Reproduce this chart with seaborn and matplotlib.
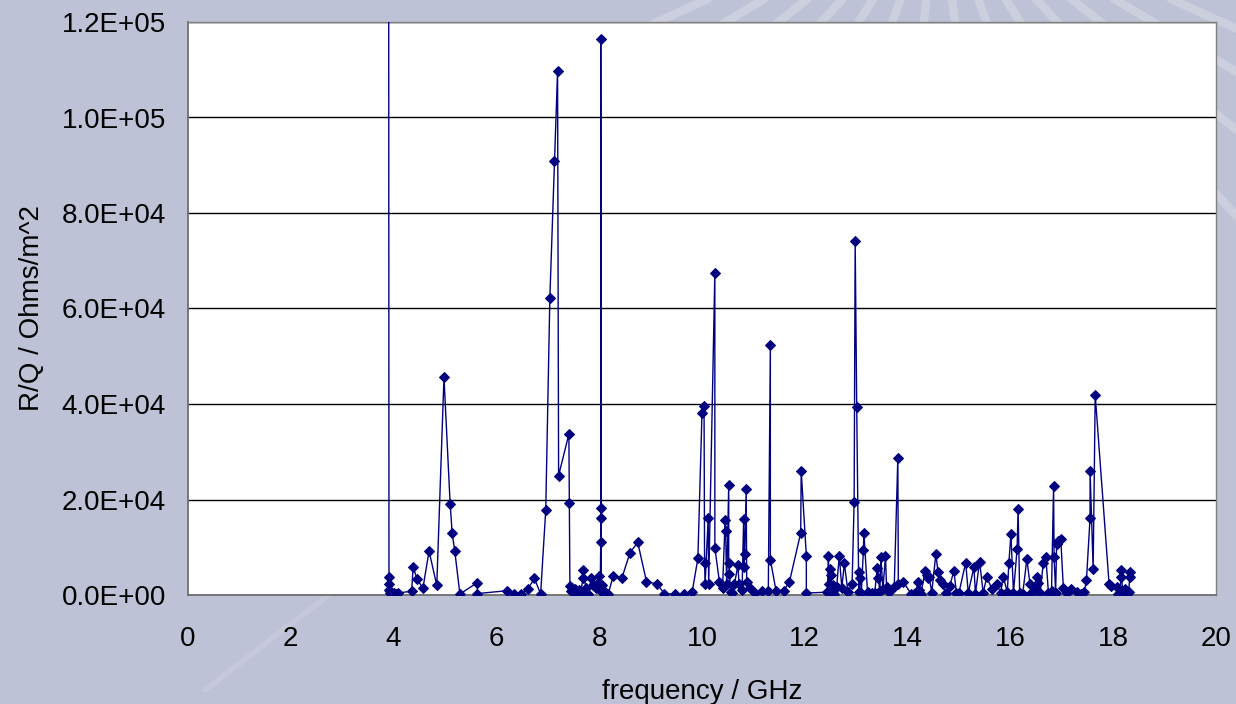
import matplotlib
matplotlib.use("Agg")
import matplotlib.pyplot as plt
import seaborn as sns
import numpy as np
import pandas as pd
from matplotlib.ticker import FuncFormatter

# frequency in GHz
freq = [3.90, 3.91, 3.91, 3.92, 3.93, 3.95, 3.97, 4.00, 4.05, 4.08,
        4.35, 4.38, 4.46, 4.57, 4.69, 4.84, 4.98, 5.10, 5.14, 5.19, 5.29, 5.63, 5.63,
        6.21, 6.34, 6.47, 6.61, 6.74, 6.86, 6.96, 7.04, 7.13, 7.19, 7.21, 7.41, 7.42,
        7.43, 7.45, 7.47, 7.50, 7.53, 7.56, 7.60, 7.63, 7.69, 7.69, 7.74, 7.79, 7.85,
        7.88, 7.93, 7.97, 8.00, 8.02, 8.03, 8.03, 8.03, 8.03, 8.04, 8.06, 8.10, 8.18,
        8.27, 8.44, 8.60, 8.75, 8.92, 9.13, 9.27, 9.48, 9.65, 9.81, 9.92,
        10.00, 10.04, 10.05, 10.06, 10.12, 10.13, 10.25, 10.25, 10.34, 10.40, 10.45,
        10.46, 10.48, 10.52, 10.52, 10.53, 10.56, 10.59, 10.63, 10.70, 10.72, 10.78,
        10.81, 10.82, 10.83, 10.86, 10.87, 10.93, 11.04, 11.17, 11.29, 11.33, 11.33,
        11.44, 11.59, 11.70, 11.92, 11.93, 12.03, 12.03,
        12.44, 12.46, 12.47, 12.49, 12.50, 12.51, 12.52, 12.54, 12.56, 12.58, 12.62,
        12.67, 12.72, 12.77, 12.84, 12.92, 12.96, 12.98, 13.01, 13.05, 13.06, 13.08,
        13.10, 13.14, 13.15, 13.22, 13.30, 13.36, 13.41, 13.43, 13.46, 13.48, 13.52,
        13.57, 13.59, 13.64, 13.74, 13.81, 13.82, 13.92, 14.07, 14.15, 14.21, 14.22,
        14.26, 14.34, 14.37, 14.40, 14.42, 14.47, 14.55, 14.59, 14.64, 14.68, 14.74,
        14.82, 14.90, 14.95, 15.00, 15.13, 15.18, 15.29, 15.32, 15.40, 15.47, 15.54,
        15.64, 15.73, 15.81, 15.86, 15.94, 15.97, 16.01, 16.06, 16.13, 16.15, 16.18,
        16.24, 16.32, 16.38, 16.41, 16.47, 16.51, 16.53, 16.58, 16.64, 16.69, 16.74,
        16.80, 16.84, 16.85, 16.88, 16.90, 16.93, 16.98, 17.03, 17.10, 17.18, 17.30,
        17.38, 17.44, 17.48, 17.55, 17.55, 17.61, 17.65, 17.92, 17.95, 18.08, 18.10,
        18.13, 18.16, 18.16, 18.19, 18.22, 18.26, 18.30, 18.33, 18.33]

# R/Q in kOhms/m^2 (x1000 when plotted)
rq_k = [250.0, 3.8, 2.4, 1.0, 0.5, 0.7, 0.3, 0.5, 0.3, 0.4,
        0.8, 5.8, 3.3, 1.4, 9.2, 2.0, 45.6, 19.1, 12.9, 9.2, 0.2, 2.6, 0.3,
        0.9, 0.3, 0.2, 1.2, 3.5, 0.2, 17.8, 62.2, 90.9, 109.7, 25.0, 33.7, 19.3,
        1.8, 0.8, 1.5, 0.5, 1.2, 0.3, 1.0, 0.4, 3.5, 5.2, 1.5, 0.3, 3.5,
        2.0, 1.5, 2.5, 3.9, 1.0, 11.0, 16.2, 18.3, 116.4, 0.8, 2.0, 0.8, 0.3,
        4.0, 3.5, 8.9, 11.0, 2.8, 2.3, 0.2, 0.2, 0.2, 0.7, 7.7,
        38.2, 39.6, 6.8, 2.2, 16.1, 2.2, 67.4, 9.9, 2.7, 1.5, 15.7,
        13.4, 2.2, 23.1, 6.8, 4.5, 0.7, 0.5, 2.2, 6.3, 2.2, 1.0,
        15.9, 5.8, 8.5, 22.2, 2.7, 1.4, 0.4, 0.9, 0.9, 52.4, 7.4,
        0.9, 0.9, 2.7, 13.0, 26.0, 8.2, 0.4,
        0.6, 8.2, 2.2, 5.4, 0.5, 4.2, 1.0, 2.0, 0.3, 1.5, 1.7,
        8.2, 1.5, 6.6, 0.6, 2.3, 19.5, 74.1, 39.4, 0.6, 4.9, 3.5,
        0.5, 9.4, 13.0, 0.6, 0.4, 0.5, 5.6, 3.5, 0.8, 8.0, 1.2,
        8.2, 1.7, 0.6, 1.7, 28.7, 2.2, 2.7, 0.2, 0.5, 2.7, 1.0,
        0.3, 5.0, 4.2, 3.5, 3.8, 0.5, 8.6, 4.9, 3.2, 2.2, 0.5,
        1.8, 5.1, 0.5, 0.5, 6.8, 0.5, 5.8, 0.3, 7.0, 0.5, 3.7,
        1.3, 2.3, 0.5, 3.8, 0.7, 6.6, 12.8, 0.5, 9.6, 18.0, 0.5,
        0.3, 7.5, 2.4, 0.5, 1.0, 3.8, 2.5, 0.5, 6.8, 7.9, 0.5,
        0.8, 22.8, 7.9, 0.5, 10.7, 11.4, 11.7, 1.5, 0.5, 1.3, 0.7,
        0.3, 0.7, 3.2, 16.2, 26.0, 5.4, 41.9, 2.3, 1.8, 1.7, 0.3,
        0.7, 5.2, 3.8, 0.5, 1.2, 0.3, 0.6, 4.8, 3.8]

rq = [v * 1000.0 for v in rq_k]

x_ticks = [0, 2, 4, 6, 8, 10, 12, 14, 16, 18, 20]
y_ticks = [0, 20000, 40000, 60000, 80000, 100000, 120000]

df = pd.DataFrame({"freq": freq, "rq": rq})

sns.set_theme(style="white")
plt.rcParams["font.family"] = ["Liberation Sans", "DejaVu Sans"]

bg = "#BEC2D6"
fig = plt.figure(figsize=(12.36, 7.04), dpi=100, facecolor=bg)

# faint light rays in the background (decorative)
for ang in np.linspace(-0.9, 0.9, 14):
    x0, y0 = 0.76, 1.15
    fig.add_artist(plt.Line2D([x0, x0 + 0.6 * np.sin(ang)], [y0, y0 - 0.6 * np.cos(ang)],
                              transform=fig.transFigure, color="white", alpha=0.22,
                              lw=6, zorder=0))
fig.add_artist(plt.Line2D([205 / 1236, 335 / 1236], [1 - 690 / 704, 1 - 590 / 704],
                          transform=fig.transFigure, color="white", alpha=0.12,
                          lw=4, zorder=0))

ax = fig.add_axes([188 / 1236, 1 - 595 / 704, (1216 - 188) / 1236, (595 - 22) / 704])
ax.set_facecolor("white")

sns.lineplot(data=df, x="freq", y="rq", sort=False, estimator=None, ax=ax,
             color="#000080", lw=1.0, marker="D", markersize=5,
             markeredgecolor="#000080", zorder=3)

ax.set_xlim(0, 20)
ax.set_ylim(0, 120000)
ax.set_xticks(x_ticks)
ax.set_yticks(y_ticks)
ax.yaxis.set_major_formatter(FuncFormatter(lambda v, p: f"{v:.1E}"))
ax.grid(axis="y", color="black", lw=1.0)
ax.grid(axis="x", visible=False)
ax.set_axisbelow(True)
for s in ["top", "right"]:
    ax.spines[s].set_color("#808080")
    ax.spines[s].set_linewidth(1.0)
for s in ["left", "bottom"]:
    ax.spines[s].set_color("#707070")
    ax.spines[s].set_linewidth(1.3)
ax.tick_params(axis="both", which="major", direction="out", length=7, width=1,
               color="#404040", labelsize=20, labelcolor="black")
ax.tick_params(axis="x", pad=15)
ax.tick_params(axis="y", pad=9)
ax.set_xlabel("frequency / GHz", fontsize=20, labelpad=20, color="black")
ax.set_ylabel("R/Q / Ohms/m^2", fontsize=20, labelpad=12, color="black")

fig.savefig("out.png", dpi=100, facecolor=bg)
